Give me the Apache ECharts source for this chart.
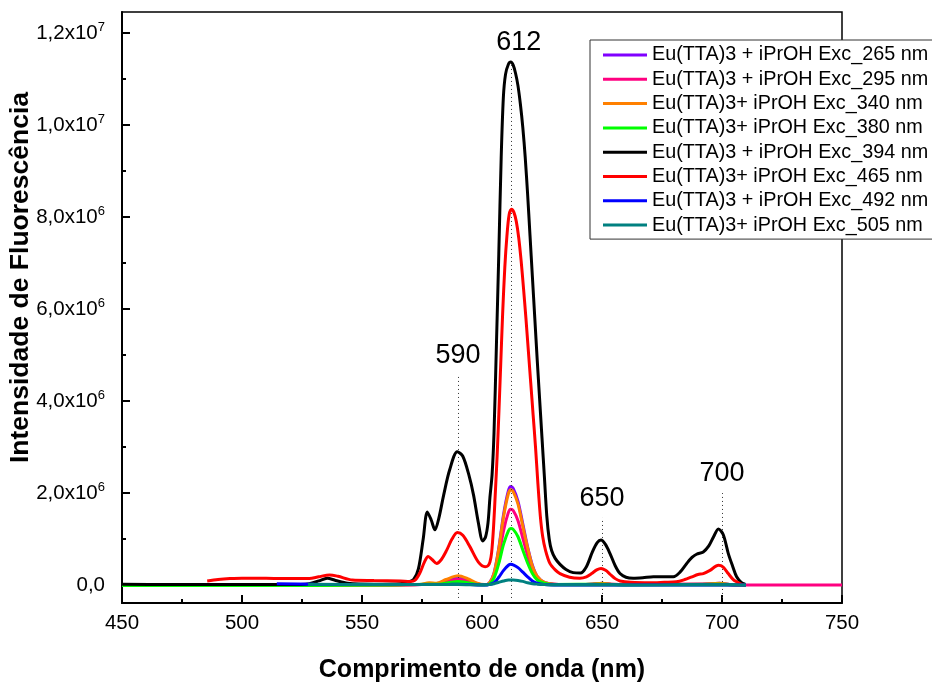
<!DOCTYPE html>
<html>
<head>
<meta charset="utf-8">
<script src="https://cdn.jsdelivr.net/npm/echarts@6/dist/echarts.min.js"></script>
<style>html,body{margin:0;padding:0;background:#fff}#c{width:932px;height:682px}</style>
</head>
<body>
<div id="c"></div>
<script>
// Intensities in units of 1e6 counts; wavelength in nm
const seriesNames = [
  'Eu(TTA)3 + iPrOH Exc_265 nm',
  'Eu(TTA)3 + iPrOH Exc_295 nm',
  'Eu(TTA)3+ iPrOH Exc_340 nm',
  'Eu(TTA)3+ iPrOH Exc_380 nm',
  'Eu(TTA)3 + iPrOH Exc_394 nm',
  'Eu(TTA)3+ iPrOH Exc_465 nm',
  'Eu(TTA)3 + iPrOH Exc_492 nm',
  'Eu(TTA)3+ iPrOH Exc_505 nm'
];
const seriesColors = ['#8000FF','#FF0080','#FF8000','#00FF00','#000000','#FF0000','#0000FF','#008080'];

const exc265 = [[450,0.0],[560,0.0],[575,0.01],[578,0.03],[582,0.04],[586,0.1],[590,0.16],[594,0.11],[598,0.03],[601,0.01],[603,0.04],[605,0.26],[607,0.81],[609,1.54],[611,2.05],[612,2.14],[613,2.10],[615,1.82],[617,1.33],[619,0.83],[621,0.43],[623,0.19],[626,0.06],[630,0.02],[640,0.01],[646,0.02],[650,0.04],[654,0.02],[660,0.01],[690,0.01],[699,0.04],[704,0.01],[710,0.0]];
const exc295 = [[450,0.0],[560,0.0],[575,0.01],[578,0.02],[582,0.03],[586,0.08],[590,0.12],[594,0.08],[598,0.02],[601,0.01],[603,0.03],[605,0.2],[607,0.63],[609,1.19],[611,1.58],[612,1.65],[613,1.62],[615,1.40],[617,1.02],[619,0.64],[621,0.33],[623,0.15],[626,0.05],[630,0.02],[640,0.01],[650,0.03],[655,0.01],[699,0.03],[704,0.0],[720,0.0],[750,0.0]];
const exc340 = [[450,0.0],[560,0.0],[574,0.01],[578,0.05],[581,0.04],[585,0.12],[590,0.2],[594,0.14],[598,0.04],[601,0.01],[603,0.04],[605,0.25],[607,0.79],[609,1.49],[611,1.99],[612,2.07],[613,2.03],[615,1.76],[617,1.28],[619,0.81],[621,0.41],[623,0.19],[626,0.06],[630,0.02],[640,0.01],[646,0.02],[650,0.04],[654,0.02],[660,0.01],[690,0.01],[699,0.04],[704,0.01],[710,0.0]];
const exc380 = [[450,-0.01],[500,-0.01],[560,0.0],[578,0.02],[582,0.02],[586,0.05],[590,0.08],[594,0.05],[598,0.01],[601,0.0],[603,0.02],[605,0.15],[607,0.47],[609,0.89],[611,1.18],[612,1.23],[613,1.21],[615,1.05],[617,0.76],[619,0.48],[621,0.25],[623,0.11],[626,0.04],[630,0.01],[650,0.02],[660,0.0],[699,0.02],[710,0.0]];
const exc394 = [[450,0.02],[470,0.01],[500,0.01],[520,0.01],[528,0.03],[532,0.09],[535.5,0.15],[539,0.1],[544,0.04],[555,0.02],[566,0.03],[569,0.06],[571.5,0.12],[573.5,0.35],[575.5,1.0],[577.2,1.59],[578.8,1.42],[580.4,1.2],[582,1.45],[584,1.95],[586.5,2.5],[589.7,2.9],[592,2.8],[594.5,2.4],[596.5,1.95],[598.5,1.35],[600.3,0.96],[601.5,1.05],[602.5,1.35],[603.3,1.9],[604.2,2.4],[605,3.3],[606,5.2],[607,7.2],[608,9.3],[608.9,10.6],[609.8,11.1],[611,11.32],[612,11.37],[613,11.3],[614,11.12],[615,10.85],[616,10.45],[617,9.95],[618,9.3],[619,8.5],[620,7.6],[621,6.7],[622,5.8],[623,4.9],[624,4.05],[625,3.2],[626,2.35],[627,1.5],[628,1.0],[629,0.75],[630.5,0.58],[632.5,0.45],[635,0.34],[638,0.27],[641,0.26],[643.5,0.4],[646,0.72],[648,0.92],[649.6,0.98],[651.5,0.88],[653.3,0.69],[655.5,0.42],[657.5,0.25],[660,0.17],[663,0.15],[667,0.16],[671.4,0.18],[676,0.18],[679.7,0.18],[682.5,0.28],[685.3,0.47],[687.5,0.6],[689.4,0.67],[692.2,0.72],[694.5,0.85],[696.5,1.05],[698.5,1.22],[700.5,1.1],[702.6,0.69],[704.5,0.4],[706.1,0.18],[708,0.06],[709.6,0.02]];
const exc465 = [[485.5,0.09],[490,0.12],[495,0.14],[500,0.15],[510,0.15],[520,0.14],[528,0.14],[532,0.18],[536.5,0.22],[540,0.19],[546,0.11],[555,0.1],[566,0.09],[570,0.08],[572,0.1],[574,0.25],[576,0.5],[577.6,0.62],[579.3,0.55],[581.1,0.47],[583,0.55],[585.3,0.76],[587.5,1.0],[589.7,1.14],[592,1.08],[595,0.83],[598.5,0.5],[601.3,0.4],[602.5,0.42],[603.3,0.5],[604,0.7],[604.8,1.25],[605.5,1.95],[606.3,2.8],[607,3.7],[607.8,4.8],[608.6,5.9],[609.5,6.9],[610.4,7.6],[611.3,8.05],[612.3,8.17],[613.3,8.1],[614.3,7.9],[615.3,7.55],[616.3,7.05],[617.3,6.45],[618.3,5.8],[619.3,5.1],[620.3,4.4],[621.3,3.7],[622.3,3.0],[623.3,2.2],[624.3,1.5],[625.3,1.05],[626.5,0.75],[628.3,0.47],[630.5,0.33],[632.5,0.25],[636.5,0.17],[640.8,0.15],[643.5,0.18],[645.7,0.25],[647.8,0.33],[649.6,0.36],[651.5,0.32],[653.3,0.24],[655.5,0.14],[657.5,0.09],[662,0.06],[670,0.05],[676,0.06],[681,0.07],[684.5,0.12],[687.5,0.18],[690,0.23],[692.2,0.25],[695,0.32],[698.5,0.43],[700.5,0.39],[702.6,0.25],[704.5,0.13],[706.1,0.07],[708,0.02],[709.6,0.0]];
const exc492 = [[514.5,0.03],[530,0.02],[560,0.01],[585,0.01],[590,0.02],[595,0.01],[601,0.0],[603,0.01],[605,0.05],[607,0.17],[609,0.32],[611,0.43],[612,0.45],[613,0.44],[615,0.38],[617,0.28],[619,0.18],[621,0.09],[623,0.04],[626,0.01],[630,0.0],[710,0.0]];
const exc505 = [[527.5,0.02],[560,0.01],[590,0.01],[600,0.0],[603,0.01],[605,0.03],[607,0.06],[609,0.09],[611,0.11],[612,0.11],[613,0.11],[615,0.10],[617,0.08],[619,0.05],[621,0.03],[623,0.02],[626,0.01],[630,0.0],[710,0.0]];
const seriesData = [exc265, exc295, exc340, exc380, exc394, exc465, exc492, exc505];

// Peak annotations: wavelength, dotted line top (1e6 units)
const peakNm = [590, 612, 650, 700];
const peakLineTop = [4.57, 11.3, 1.46, 2.0];
const peakLineBottom = -0.28;

const yMajorTicks = [0, 2, 4, 6, 8, 10, 12];
const yMinorTicks = [1, 3, 5, 7, 9, 11];

const FONT = 'Liberation Sans, Arial, sans-serif';
const SCALE = 1e6;

function yFmt(v) {
  if (Math.abs(v) < 1) return '{m|0,0}';
  const e = Math.floor(Math.log10(v) + 1e-9);
  const m = (v / Math.pow(10, e)).toFixed(1).replace('.', ',');
  return '{m|' + m + 'x10}{s|' + e + '}';
}

const chart = echarts.init(document.getElementById('c'), null, {renderer: 'canvas'});

const series = seriesNames.map((name, i) => ({
  name: name,
  type: 'line',
  data: seriesData[i].map(p => [p[0], p[1] * SCALE]),
  showSymbol: false,
  symbol: 'none',
  smooth: 0.3,
  lineStyle: {color: seriesColors[i], width: 3},
  itemStyle: {color: seriesColors[i]},
  animation: false,
  z: 2 + i
}));

series.push({
  name: 'peaks',
  type: 'line',
  data: [],
  animation: false,
  z: 20,
  markLine: {
    silent: true,
    symbol: ['none', 'none'],
    animation: false,
    lineStyle: {color: '#333', width: 1, type: [1, 3]},
    label: {
      show: true, position: 'end', distance: 6,
      color: '#000', fontSize: 27, fontFamily: FONT,
      formatter: p => p.data.name || p.name
    },
    data: peakNm.map((nm, i) => [
      {coord: [nm, peakLineBottom * SCALE], name: String(nm),
       label: nm === 612 ? {offset: [8, -3]} : {}},
      {coord: [nm, peakLineTop[i] * SCALE]}
    ])
  }
});

chart.setOption({
  backgroundColor: '#fff',
  animation: false,
  grid: {left: 122, right: 90, top: 12, bottom: 79, show: true, borderColor: '#000', borderWidth: 1.5, backgroundColor: 'transparent', outerBoundsMode: 'none', containLabel: false},
  legend: {
    orient: 'vertical', left: 590, top: 40,
    data: seriesNames,
    icon: 'rect', itemWidth: 44, itemHeight: 3, itemGap: 4.3,
    padding: [5, 20, 4, 13],
    borderColor: '#333', borderWidth: 1, backgroundColor: '#fff',
    textStyle: {fontSize: 19.8, fontFamily: FONT, color: '#000'},
    z: 30
  },
  xAxis: {
    type: 'value', min: 450, max: 750, interval: 50,
    name: 'Comprimento de onda (nm)', nameLocation: 'middle', nameGap: 55, nameMoveOverlap: false,
    nameTextStyle: {fontSize: 25, fontWeight: 'bold', fontFamily: FONT, color: '#000'},
    axisLine: {show: true, onZero: false, lineStyle: {color: '#000', width: 2}},
    axisTick: {show: true, inside: true, length: 8, lineStyle: {color: '#000', width: 2}},
    minorTick: {show: true, splitNumber: 2, length: 4, lineStyle: {color: '#000', width: 2}},
    axisLabel: {fontSize: 20.5, fontFamily: FONT, color: '#000', margin: 10},
    splitLine: {show: false}
  },
  yAxis: [{
    type: 'value', min: -0.39 * SCALE, max: 12.456 * SCALE,
    name: 'Intensidade de Fluorescência', nameLocation: 'middle', nameGap: 88, nameMoveOverlap: false,
    nameTextStyle: {fontSize: 26.5, fontWeight: 'bold', fontFamily: FONT, color: '#000', padding: [0, 0, 0, 60]},
    axisLine: {show: true, onZero: false, lineStyle: {color: '#000', width: 2}},
    axisTick: {show: true, inside: true, length: 8, lineStyle: {color: '#000', width: 2}, customValues: yMajorTicks.map(v => v * SCALE)},
    axisLabel: {
      margin: 17, formatter: yFmt, customValues: yMajorTicks.map(v => v * SCALE),
      rich: {
        m: {fontSize: 20.5, fontFamily: FONT, color: '#000', lineHeight: 24},
        s: {fontSize: 13, fontFamily: FONT, color: '#000', padding: [0, 0, 11, 0]}
      }
    },
    splitLine: {show: false}
  }, {
    type: 'value', min: -0.39 * SCALE, max: 12.456 * SCALE, position: 'left',
    axisLine: {show: false},
    axisTick: {show: true, inside: true, length: 4, lineStyle: {color: '#000', width: 2}, customValues: yMinorTicks.map(v => v * SCALE)},
    axisLabel: {show: false},
    splitLine: {show: false}
  }],
  series: series
});
</script>
</body>
</html>
